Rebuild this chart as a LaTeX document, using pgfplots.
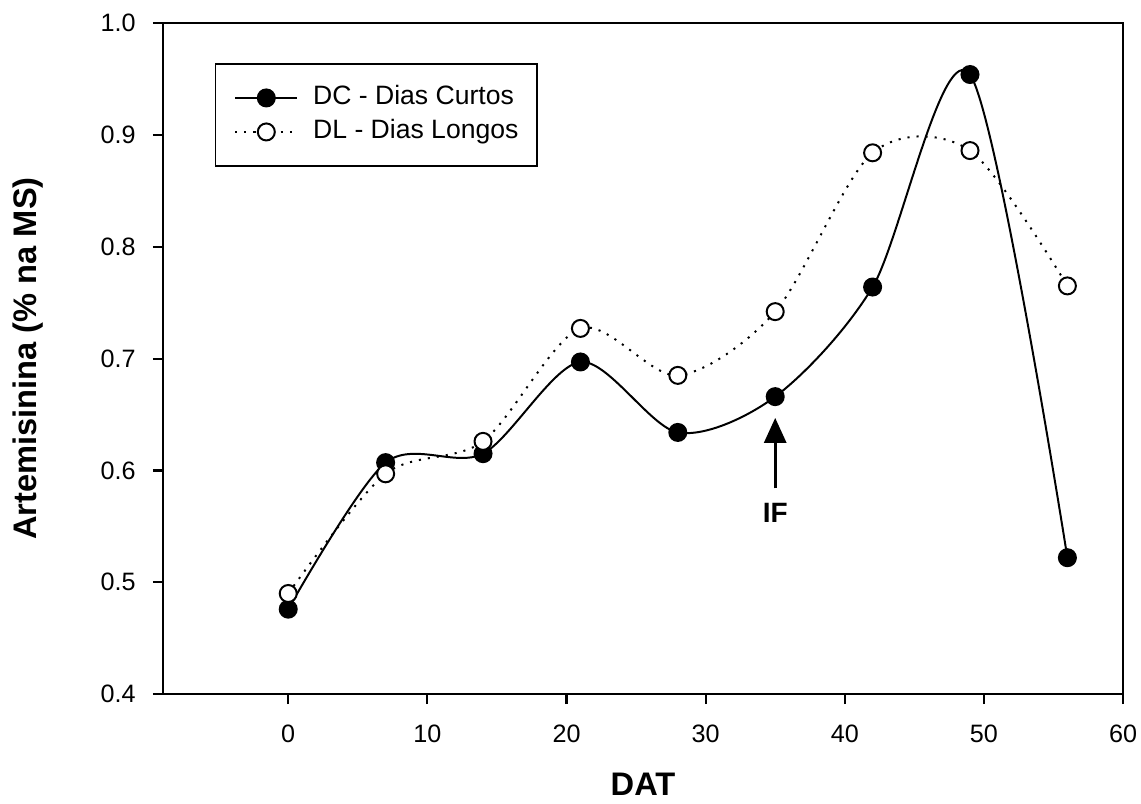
\documentclass[border=0pt]{standalone}
\usepackage{fontspec}
\setmainfont{Liberation Sans}
\usepackage{pgfplots}
\pgfplotsset{compat=1.18}
\usetikzlibrary{arrows.meta}
\begin{document}
\begin{tikzpicture}
\useasboundingbox (-69.96pt,-46.8pt) rectangle (419.7pt,297.9pt);
\begin{axis}[
  at={(0,0)}, anchor=south west,
  scale only axis, width=412pt, height=288pt,
  xmin=-9, xmax=60, ymin=0.4, ymax=1.0,
  xtick={0,10,20,30,40,50,60},
  ytick={0.4,0.5,0.6,0.7,0.8,0.9,1.0},
  yticklabel style={/pgf/number format/.cd,fixed,fixed zerofill,precision=1,/tikz/.cd,xshift=-3.9pt},
  xticklabel style={yshift=-5.5pt},
  /pgf/number format/assume math mode=true,
  tick align=outside, tick pos=left,
  major tick length=4.3pt,
  axis line style={line width=1pt},
  tick style={line width=0.9pt, black},
  tick label style={font=\fontsize{10.8}{13}\selectfont},
  xlabel={DAT}, ylabel={Artemisinina (\% na MS)},
  label style={font=\fontsize{14}{16}\selectfont\bfseries},
  xlabel style={at={(axis description cs:0.5,-0.134)}, anchor=center},
  ylabel style={at={(axis description cs:-0.1406,0.5)}, anchor=center},
  legend cell align=left,
  legend style={at={(axis description cs:0.054,0.94)}, anchor=north west,
    draw=black, line width=0.7pt, font=\fontsize{11.4}{13}\selectfont,
    inner xsep=8pt, inner ysep=9pt, column sep=6.4pt, row sep=3.6pt,
    nodes={inner sep=0pt, text height=8.5pt, text depth=2.5pt}},
  legend image code/.code={\draw[#1, mark repeat=2, mark phase=2] plot coordinates {(0pt,0pt) (13.3pt,0pt) (26.6pt,0pt)};},
]
\addplot[black, line width=0.85pt, smooth, mark=*, mark size=3.65pt,
  mark options={solid, fill=black}] coordinates {
  (0,0.476) (7,0.607) (14,0.615) (21,0.697) (28,0.634) (35,0.666) (42,0.764) (49,0.954) (56,0.522)};
\addlegendentry{DC - Dias Curtos}
\addplot[black, line width=0.85pt, smooth, dash pattern=on 0.9pt off 3pt, mark=*, mark size=3.65pt,
  mark options={solid, fill=white}] coordinates {
  (0,0.490) (7,0.597) (14,0.626) (21,0.727) (28,0.685) (35,0.742) (42,0.884) (49,0.886) (56,0.765)};
\addlegendentry{DL - Dias Longos}
\draw[line width=1.3pt, -{Triangle[width=9.4pt,length=10.7pt]}] (axis cs:35,0.584) -- (axis cs:35,0.647);
\node[font=\fontsize{12}{14}\selectfont\bfseries] at (axis cs:35,0.562) {IF};
\end{axis}
\end{tikzpicture}
\end{document}
